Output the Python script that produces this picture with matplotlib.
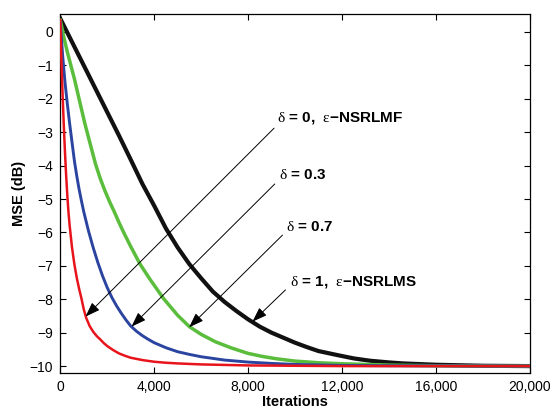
import matplotlib
matplotlib.use("Agg")
import matplotlib.pyplot as plt
from matplotlib.ticker import FuncFormatter, MultipleLocator

plt.rcParams["font.family"] = ["Liberation Sans", "DejaVu Sans"]
plt.rcParams["mathtext.fontset"] = "custom"
plt.rcParams["mathtext.rm"] = "Liberation Serif"
plt.rcParams["mathtext.it"] = "Liberation Serif:italic"
plt.rcParams["mathtext.bf"] = "Liberation Sans:bold"

# learning curves (iterations, MSE in dB)
red_it = [0, 50, 100, 150, 200, 250, 300, 350, 400, 500, 600, 700, 800, 900,
          1000, 1100, 1250, 1400, 1550, 1700, 1850, 2000, 2250, 2500, 2750,
          3000, 3500, 4000, 4500, 5000, 6000, 8000, 12000, 20000]
red_db = [0.35, -0.9, -1.9, -2.8, -3.6, -4.3, -4.9, -5.4, -5.8, -6.45, -6.95,
          -7.35, -7.68, -7.97, -8.3, -8.55, -8.8, -8.97, -9.1, -9.2, -9.31,
          -9.4, -9.52, -9.62, -9.69, -9.75, -9.82, -9.87, -9.9, -9.92, -9.95,
          -9.98, -10.0, -10.0]

blue_it = [0, 100, 200, 300, 400, 500, 600, 700, 800, 900, 1000, 1200, 1400,
           1600, 1800, 2000, 2200, 2400, 2600, 2800, 3000, 3250, 3500, 3750,
           4000, 4500, 5000, 5500, 6000, 6500, 7000, 8000, 9000, 10000, 12000,
           14000, 20000]
blue_db = [0.3, -0.7, -1.5, -2.15, -2.75, -3.3, -3.85, -4.3, -4.7, -5.05, -5.38,
           -5.95, -6.45, -6.9, -7.3, -7.65, -7.95, -8.2, -8.42, -8.62, -8.8,
           -8.96, -9.09, -9.2, -9.3, -9.45, -9.57, -9.65, -9.72, -9.77, -9.82,
           -9.88, -9.92, -9.95, -9.98, -9.99, -10.0]

green_it = [0, 150, 300, 450, 600, 750, 900, 1050, 1200, 1350, 1500, 1700,
            1900, 2100, 2300, 2500, 2700, 3000, 3400, 3800, 4400, 5000, 5500,
            6000, 6600, 7300, 8000, 8600, 9200, 10000, 11000, 12000, 14000,
            16000, 20000]
green_db = [0.35, -0.15, -0.6, -1.0, -1.4, -1.85, -2.3, -2.75, -3.15, -3.55,
            -3.95, -4.38, -4.75, -5.08, -5.38, -5.7, -6.0, -6.42, -6.95, -7.38,
            -7.98, -8.48, -8.82, -9.05, -9.27, -9.46, -9.62, -9.71, -9.78, -9.85,
            -9.9, -9.93, -9.97, -9.99, -10.0]

black_it = [0, 500, 1000, 1500, 2000, 2500, 3000, 3500, 4000, 4500, 5000, 5500,
            6000, 6500, 7000, 7500, 8000, 8500, 9000, 9500, 10000, 10500, 11000,
            11800, 12500, 13200, 14000, 14600, 16000, 18000, 20000]
black_db = [0.4, -0.3, -1.0, -1.7, -2.4, -3.1, -3.82, -4.55, -5.2, -5.88, -6.45,
            -6.95, -7.37, -7.77, -8.08, -8.35, -8.6, -8.82, -9.0, -9.15, -9.3,
            -9.43, -9.55, -9.67, -9.77, -9.84, -9.89, -9.92, -9.96, -9.99, -10.0]

# annotation labels, arrow tips on the curves and arrow tails
labels = [r"$\mathrm{\delta}$ = 0,  $\mathrm{\varepsilon}$−NSRLMF",
          r"$\mathrm{\delta}$ = 0.3",
          r"$\mathrm{\delta}$ = 0.7",
          r"$\mathrm{\delta}$ = 1,  $\mathrm{\varepsilon}$−NSRLMS"]
tips = [(1073, -8.52), (3033, -8.82), (5487, -8.84), (8187, -8.67)]
tails = [(9108, -2.88), (9137, -4.55), (9466, -6.08), (9593, -7.72)]
text_pos = [(9252, -2.57), (9321, -4.28), (9636, -5.83), (9776, -7.48)]

fig = plt.figure(figsize=(5.53, 4.11), dpi=100)
ax = fig.add_axes([0.109, 0.093, 0.849, 0.874])

ax.plot(black_it, black_db, color="#111111", lw=3.0, zorder=2)
ax.plot(green_it, green_db, color="#5abd3c", lw=2.5, zorder=3)
ax.plot(blue_it, blue_db, color="#2a44a0", lw=2.1, zorder=4)
ax.plot(red_it, red_db, color="#e8141c", lw=1.8, zorder=5)

for lab, tip, tail, tp in zip(labels, tips, tails, text_pos):
    ax.annotate("", xy=tip, xytext=tail,
                arrowprops=dict(arrowstyle="-|>,head_length=0.9,head_width=0.32",
                                color="black", lw=0.7, shrinkA=0, shrinkB=0),
                zorder=6)
    ax.text(tp[0], tp[1], lab, fontsize=11, fontweight="bold",
            ha="left", va="center", zorder=7)

ax.set_xlim(0, 20000)
ax.set_ylim(-10.2, 0.55)
ax.xaxis.set_major_locator(MultipleLocator(4000))
ax.yaxis.set_major_locator(MultipleLocator(1))
ax.xaxis.set_major_formatter(FuncFormatter(lambda v, p: f"{int(v):,}"))
ax.yaxis.set_major_formatter(FuncFormatter(lambda v, p: f"{int(round(v))}".replace("-", "\u2212")))
ax.tick_params(direction="in", top=True, right=True, length=4, width=0.8,
               labelsize=10, pad=5)
for s in ax.spines.values():
    s.set_linewidth(0.9)

ax.set_xlabel("Iterations", fontsize=10.5, fontweight="bold", labelpad=1)
ax.set_ylabel("MSE (dB)", fontsize=10.5, fontweight="bold", labelpad=3)

fig.savefig("out.png", dpi=100)
